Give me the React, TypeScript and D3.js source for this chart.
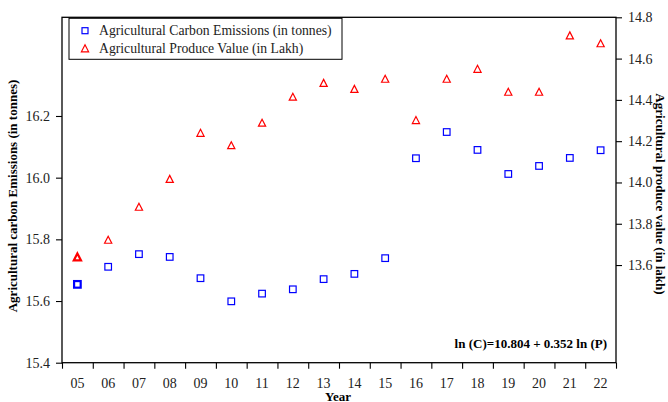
import React, { useEffect, useRef } from "react";
import * as d3 from "d3";

// years (last two digits)
const years = ["05", "06", "07", "08", "09", "10", "11", "12", "13", "14", "15", "16", "17", "18", "19", "20", "21", "22"];

// ln of agricultural carbon emissions (left axis)
const emissions = [15.654, 15.711, 15.752, 15.743, 15.674, 15.599, 15.624, 15.638, 15.671, 15.688, 15.739, 16.063, 16.148, 16.09, 16.012, 16.038, 16.064, 16.089];

// ln of agricultural produce value (right axis)
const produce = [13.637, 13.72, 13.88, 14.015, 14.238, 14.178, 14.287, 14.413, 14.48, 14.451, 14.5, 14.3, 14.5, 14.548, 14.437, 14.437, 14.71, 14.672];

const leftTicks = [15.4, 15.6, 15.8, 16.0, 16.2];
const rightTicks = [13.6, 13.8, 14.0, 14.2, 14.4, 14.6, 14.8];

const legendLabels = ["Agricultural Carbon Emissions (in tonnes)", "Agricultural Produce Value (in Lakh)"];

const FONT = "'Liberation Serif', 'Times New Roman', serif";

export default function App() {
    const ref = useRef<SVGSVGElement>(null);

    useEffect(() => {
        const width = 668;
        const height = 402;
        const margin = { top: 17.3, right: 52, bottom: 39.3, left: 62 };

        const svg = d3.select(ref.current);
        svg.selectAll("*").remove();

        // ==========================
        // Scales
        // ==========================
        const x = d3.scaleBand()
            .domain(years)
            .range([margin.left, width - margin.right]);

        const xEdges = d3.scaleLinear()
            .domain([0, years.length])
            .range([margin.left, width - margin.right]);

        const yLeft = d3.scaleLinear()
            .domain([15.4, 16.52])
            .range([height - margin.bottom, margin.top]);

        const yRight = d3.scaleLinear()
            .domain([13.127, 14.8])
            .range([height - margin.bottom, margin.top]);

        const bottom = height - margin.bottom;
        const right = width - margin.right;

        // ==========================
        // Axes
        // ==========================
        const styleAxis = (g: any) => {
            g.select(".domain").remove();
            g.selectAll("line").attr("stroke", "#000").attr("stroke-width", 1.1);
            g.selectAll("text")
                .attr("font-family", FONT)
                .attr("font-size", 14)
                .attr("fill", "#222");
        };

        svg.append("g")
            .attr("transform", `translate(${margin.left},0)`)
            .call(d3.axisLeft(yLeft).tickValues(leftTicks).tickSize(6).tickPadding(6).tickFormat(d3.format(".1f")))
            .call(styleAxis);

        svg.append("g")
            .attr("transform", `translate(${right},0)`)
            .call(d3.axisRight(yRight).tickValues(rightTicks).tickSize(6).tickPadding(6).tickFormat(d3.format(".1f")))
            .call(styleAxis);

        // tick marks at band edges
        svg.append("g")
            .attr("transform", `translate(0,${bottom})`)
            .call(d3.axisBottom(xEdges).tickValues(d3.range(years.length + 1)).tickSize(6).tickFormat(() => ""))
            .call(styleAxis);

        // year labels centred in bands
        svg.append("g")
            .attr("transform", `translate(0,${bottom})`)
            .call(d3.axisBottom(x).tickSize(0).tickPadding(15))
            .call(styleAxis);

        // frame
        svg.append("rect")
            .attr("x", margin.left)
            .attr("y", margin.top)
            .attr("width", right - margin.left)
            .attr("height", bottom - margin.top)
            .attr("fill", "none")
            .attr("stroke", "#000")
            .attr("stroke-width", 1.3);

        // ==========================
        // Markers
        // ==========================
        const s = 3.3;
        svg.selectAll(".sq")
            .data(emissions)
            .enter()
            .append("rect")
            .attr("x", (d, i) => x(years[i])! + x.bandwidth() / 2 - s)
            .attr("y", d => yLeft(d) - s)
            .attr("width", s * 2)
            .attr("height", s * 2)
            .attr("fill", "none")
            .attr("stroke", "#0000ff")
            .attr("stroke-width", (d, i) => (i === 0 ? 2.2 : 1.2));

        const tri = (cx: number, cy: number) =>
            `M${cx},${cy - 4}L${cx + 3.6},${cy + 3}L${cx - 3.6},${cy + 3}Z`;

        svg.selectAll(".tri")
            .data(produce)
            .enter()
            .append("path")
            .attr("d", (d, i) => tri(x(years[i])! + x.bandwidth() / 2, yRight(d)))
            .attr("fill", "none")
            .attr("stroke", "#ff0000")
            .attr("stroke-width", (d, i) => (i === 0 ? 2.2 : 1.2));

        // ==========================
        // Legend
        // ==========================
        const legend = svg.append("g");
        legend.append("rect")
            .attr("x", 69)
            .attr("y", 18.3)
            .attr("width", 273)
            .attr("height", 41)
            .attr("fill", "#fff")
            .attr("stroke", "#000")
            .attr("stroke-width", 1);

        legend.append("rect")
            .attr("x", 85 - 3)
            .attr("y", 30.7 - 3)
            .attr("width", 6)
            .attr("height", 6)
            .attr("fill", "none")
            .attr("stroke", "#0000ff")
            .attr("stroke-width", 1.2);

        legend.append("path")
            .attr("d", tri(85, 48.8))
            .attr("fill", "none")
            .attr("stroke", "#ff0000")
            .attr("stroke-width", 1.2);

        legend.selectAll(".lt")
            .data(legendLabels)
            .enter()
            .append("text")
            .attr("x", 99)
            .attr("y", (d, i) => 30.7 + i * 17.6)
            .attr("dy", "0.35em")
            .attr("font-family", FONT)
            .attr("font-size", 13.7)
            .attr("fill", "#222")
            .text(d => d);

        // ==========================
        // Titles
        // ==========================
        svg.append("text")
            .attr("transform", `translate(17,196) rotate(-90)`)
            .attr("text-anchor", "middle")
            .attr("font-family", FONT)
            .attr("font-size", 13)
            .attr("font-weight", "bold")
            .text("Agricultural carbon Emissions (in tonnes)");

        svg.append("text")
            .attr("transform", `translate(656,194) rotate(90)`)
            .attr("text-anchor", "middle")
            .attr("font-family", FONT)
            .attr("font-size", 13)
            .attr("font-weight", "bold")
            .text("Agricultural produce value (in lakh)");

        svg.append("text")
            .attr("x", 338)
            .attr("y", 400.5)
            .attr("text-anchor", "middle")
            .attr("font-family", FONT)
            .attr("font-size", 13)
            .attr("font-weight", "bold")
            .text("Year");

        svg.append("text")
            .attr("x", 607)
            .attr("y", 347.5)
            .attr("text-anchor", "end")
            .attr("font-family", FONT)
            .attr("font-size", 13)
            .attr("font-weight", "bold")
            .text("ln (C)=10.804 + 0.352 ln (P)");
    }, []);

    return (
        <svg
            ref={ref}
            width={668}
            height={402}
            style={{ position: "absolute", left: 0, top: 0, background: "#fff" }}
        />
    );
}
